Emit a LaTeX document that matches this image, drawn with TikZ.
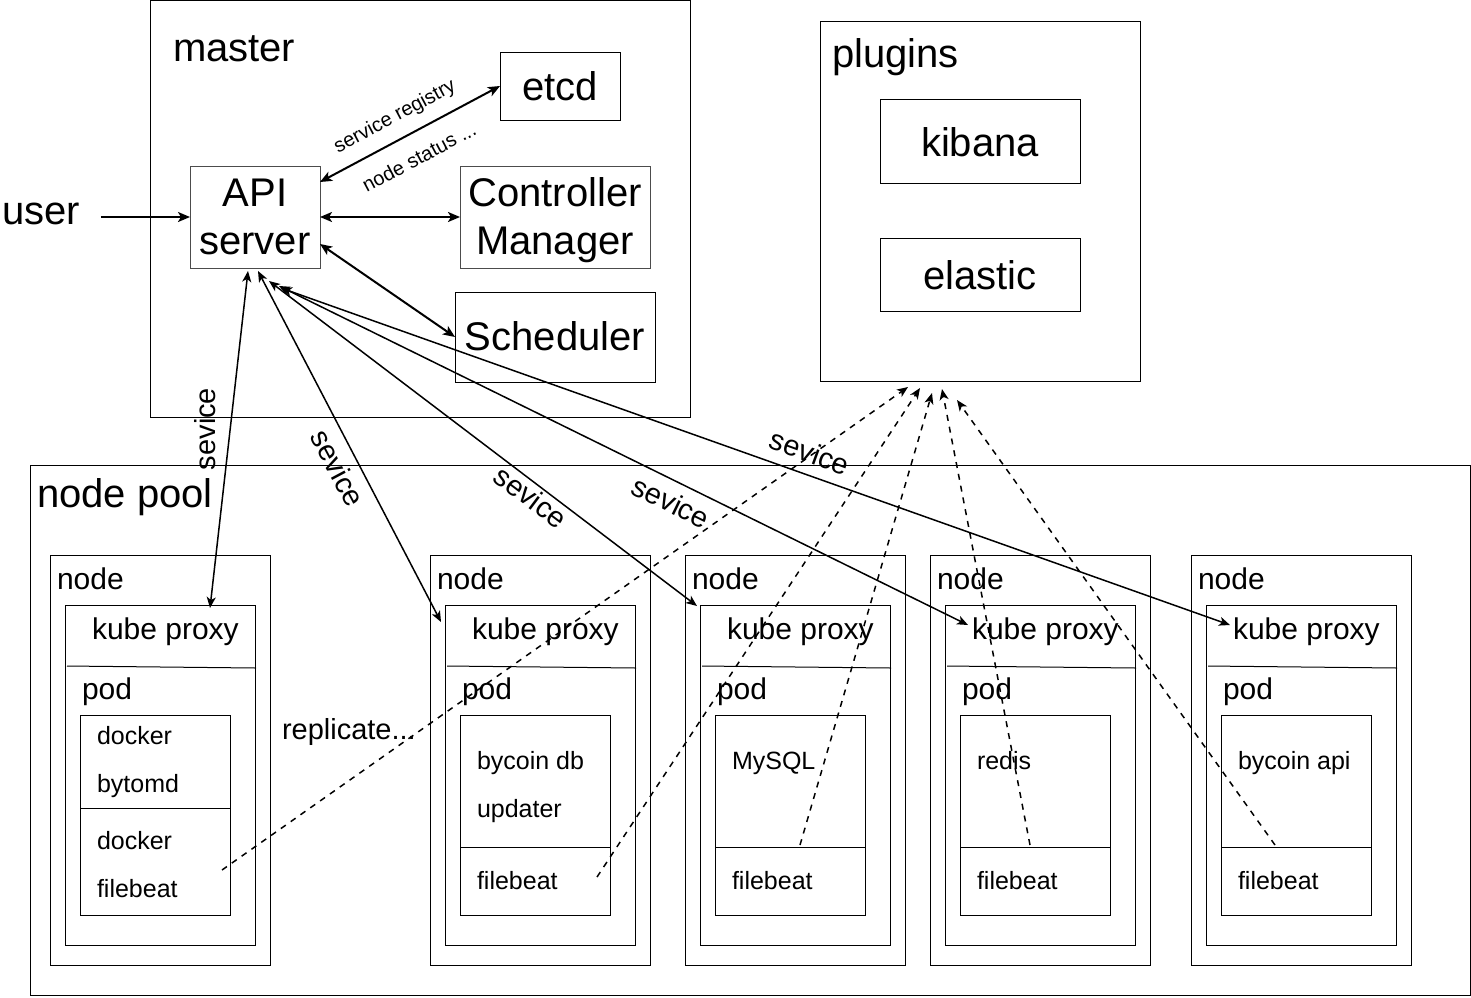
\documentclass[tikz,border=0pt]{standalone}
\usepackage{fontspec}
\setmainfont{Liberation Sans}
\usetikzlibrary{arrows.meta,calc}
\newcommand\mybox[6][black]{\node[box,draw=#1,minimum width=#5pt,minimum height=#6pt] (#2) at (#3,#4) {};}
\begin{document}
\begin{tikzpicture}[x=1pt,y=-1pt,
  box/.style={line width=1pt, inner sep=0pt, outer sep=0pt, anchor=north west},
  big/.style={font=\fontsize{40}{48}\selectfont, inner sep=0pt, outer sep=0pt},
  mid/.style={font=\fontsize{30}{36}\selectfont, inner sep=0pt, outer sep=0pt},
  svl/.style={font=\fontsize{29}{35}\selectfont, inner sep=0pt, outer sep=0pt},
  sml/.style={font=\fontsize{25}{30}\selectfont, inner sep=0pt, outer sep=0pt, anchor=base west},
  tny/.style={font=\fontsize{20}{24}\selectfont, inner sep=0pt, outer sep=0pt},
  heavy/.style={line width=2pt, {Stealth[length=12pt,width=10pt,inset=3pt]}-{Stealth[length=12pt,width=10pt,inset=3pt]}},
  heavyR/.style={line width=2pt, -{Stealth[length=12pt,width=10pt,inset=3pt]}},
  svc/.style={line width=1.5pt, {Stealth[length=11pt,width=9pt,inset=3pt]}-{Stealth[length=11pt,width=9pt,inset=3pt]}},
  logline/.style={line width=1.5pt, dash pattern=on 6pt off 6pt, -{Stealth[length=11pt,width=9pt,inset=3pt]}},
]
\useasboundingbox (0,0) rectangle (1471,997);

% ---------- master ----------
\mybox{master}{150}{0.5}{540}{417}
\node[big, anchor=base west] (masterT) at (173,61) {master};
\mybox{etcd}{500}{52}{120}{68}
\node[big, anchor=base] (etcdT) at (560,100) {etcd};
\mybox[black!70]{api}{190}{166}{130}{102}
\node[big, anchor=base] (apiT1) at (255,206) {API};
\node[big, anchor=base] (apiT2) at (255,254) {server};
\mybox[black!70]{ctrl}{460}{166}{190}{102}
\node[big, anchor=base] (ctrlT1) at (555,206) {Controller};
\node[big, anchor=base] (ctrlT2) at (555,254) {Manager};
\mybox{sched}{455}{292}{200}{90}
\node[big, anchor=base] (schedT) at (555,350) {Scheduler};

\node[big, anchor=west] (userT) at (2,214) {user};

% ---------- plugins ----------
\mybox{plugins}{820}{21}{320}{360}
\node[big, anchor=base west] (pluginsT) at (832,67) {plugins};
\mybox{kibana}{880}{99}{200}{84}
\node[big, anchor=base] (kibanaT) at (980,156) {kibana};
\mybox{elastic}{880}{238}{200}{73}
\node[big, anchor=base] (elasticT) at (980,289) {elastic};

% ---------- node pool ----------
\mybox{pool}{30}{465}{1440}{530}
\node[big, anchor=base west] (poolT) at (37,507) {node pool};

\foreach \i/\x in {A/50,B/430,C/685,D/930,E/1191}{
  \mybox{n\i}{\x}{555}{220}{410}
  \mybox{kp\i}{\x+15}{605}{190}{340}
  \mybox{ct\i}{\x+30}{715}{150}{200}
  \node[mid, anchor=base west] (nT\i) at (\x+7,589) {node};
  \node[mid, anchor=base west] (kpT\i) at (\x+42,639) {kube proxy};
  \node[mid, anchor=base west] (podT\i) at (\x+32,699) {pod};
  \draw[line width=1pt] ([xshift=2pt,yshift=-61pt]kp\i.north west) -- ([xshift=1pt,yshift=-63pt]kp\i.north east);
}
\draw[line width=1pt] (ctA.west |- 0,808) -- (ctA.east |- 0,808);
\foreach \i in {B,C,D,E}{
  \draw[line width=1pt] (ct\i.west |- 0,847) -- (ct\i.east |- 0,847);
}

\node[sml] (cA1) at (97,744) {docker};
\node[sml] (cA2) at (97,792) {bytomd};
\node[sml] (cA3) at (97,849) {docker};
\node[sml] (cA4) at (97,897) {filebeat};
\node[sml] (cB1) at (477,769) {bycoin db};
\node[sml] (cB2) at (477,817) {updater};
\node[sml] (cB3) at (477,889) {filebeat};
\node[sml] (cC1) at (732,769) {MySQL};
\node[sml] (cC2) at (732,889) {filebeat};
\node[sml] (cD1) at (977,769) {redis};
\node[sml] (cD2) at (977,889) {filebeat};
\node[sml] (cE1) at (1238,769) {bycoin api};
\node[sml] (cE2) at (1238,889) {filebeat};

\node[svl, anchor=base west] (replT) at (282,739) {replicate...};

% ---------- master connectors ----------
\draw[heavyR] ([xshift=21pt,yshift=-3pt]userT.east) -- (api.west);
\draw[heavy] ([yshift=35pt]api.east) -- (etcd.west);
\draw[heavy] (api.east) -- (ctrl.west);
\draw[heavy] ([yshift=-27pt]api.east) -- (sched.west);
\node[tny, rotate=28] (lreg) at (395,117) {service registry};
\node[tny, rotate=28] (lstat) at (419,157) {node status ...};

% ---------- service connectors ----------
\draw[svc] ([xshift=-7pt,yshift=-3pt]api.south) -- ([xshift=50pt,yshift=-3pt]kpA.north);
\draw[svc] ([xshift=3pt,yshift=-3pt]api.south) -- ([xshift=-4pt,yshift=-17pt]kpB.north west);
\draw[svc] ([xshift=14pt,yshift=-13pt]api.south) -- ([xshift=-3pt,yshift=-1pt]kpC.north west);
\draw[svc] ([xshift=24pt,yshift=-18pt]api.south) -- ([xshift=23pt,yshift=-20pt]kpD.north west);
\draw[svc] ([xshift=26pt,yshift=-20pt]api.south) -- ([xshift=24pt,yshift=-20pt]kpE.north west);
\node[svl, rotate=90] (s1) at (205,429) {sevice};
\node[svl, rotate=-62] (s2) at (338,468) {sevice};
\node[svl, rotate=-37] (s3) at (531,497) {sevice};
\node[svl, rotate=-26] (s4) at (671,502) {sevice};
\node[svl, rotate=-20] (s5) at (810,452) {sevice};

% ---------- log connectors ----------
\coordinate (fA) at (222,870);
\coordinate (fB) at (597,877);
\coordinate (fC) at (800,845);
\coordinate (fD) at (1030,845);
\coordinate (fE) at (1275,845);
\draw[logline] (fA) -- ([xshift=-72pt,yshift=-6pt]plugins.south);
\draw[logline] (fB) -- ([xshift=-60pt,yshift=-7pt]plugins.south);
\draw[logline] (fC) -- ([xshift=-48pt,yshift=-12pt]plugins.south);
\draw[logline] (fD) -- ([xshift=-38pt,yshift=-8pt]plugins.south);
\draw[logline] (fE) -- ([xshift=-23pt,yshift=-19pt]plugins.south);
\end{tikzpicture}
\end{document}
